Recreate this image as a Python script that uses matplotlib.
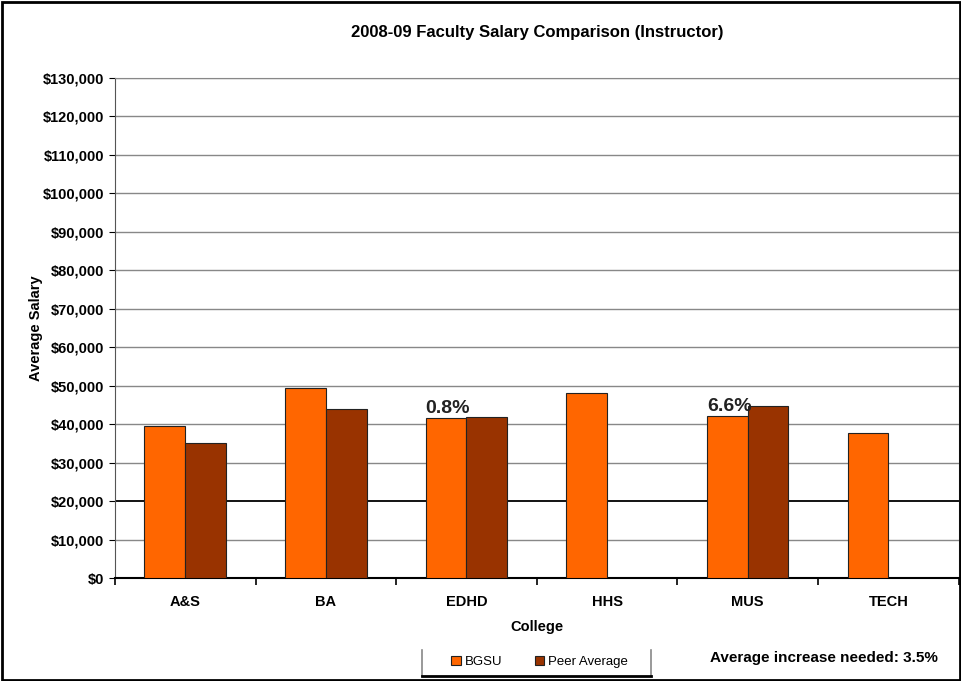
import matplotlib.pyplot as plt
import numpy as np
from matplotlib.ticker import FuncFormatter, MultipleLocator
from matplotlib.lines import Line2D

plt.rcParams['font.family'] = ['Liberation Sans', 'DejaVu Sans']

colleges = ['A&S', 'BA', 'EDHD', 'HHS', 'MUS', 'TECH']
bgsu = [39650, 49300, 41500, 48000, 42000, 37600]
peer = [35200, 43950, 41850, np.nan, 44800, np.nan]
gap_labels = {2: '0.8%', 4: '6.6%'}

fig = plt.figure(figsize=(9.62, 6.81), dpi=100)
ax = fig.add_axes([0.1195, 0.1512, 0.877, 0.7343])

x = np.arange(len(colleges))
w = 0.29
ax.bar(x - w / 2, bgsu, w, color='#FF6600', edgecolor='#222222', linewidth=0.8,
       label='BGSU', zorder=3)
ax.bar(x + w / 2, np.nan_to_num(peer), w, color='#993300', edgecolor='#222222',
       linewidth=0.8, label='Peer Average', zorder=3)

for i, txt in gap_labels.items():
    ax.text(x[i] - w, bgsu[i] + 300, txt, fontsize=14, fontweight='bold',
            ha='left', va='bottom', color='#222222')

ax.set_xlim(-0.5, len(colleges) - 0.5)
ax.set_ylim(0, 130000)
ax.yaxis.set_major_locator(MultipleLocator(10000))
ax.yaxis.set_major_formatter(FuncFormatter(lambda v, p: '${:,.0f}'.format(v)))

# gridlines: grey, with the $20,000 line drawn dark
for v in range(10000, 130001, 10000):
    if v == 20000:
        ax.axhline(v, color='black', lw=1.3, zorder=1)
    else:
        ax.axhline(v, color='#888888', lw=1.0, zorder=1)

ax.set_xticks(x)
ax.set_xticklabels(colleges, fontsize=10.5, fontweight='bold')
ax.set_xticks(np.arange(-0.5, len(colleges)), minor=True)
ax.tick_params(axis='x', which='major', length=0, pad=12)
ax.tick_params(axis='x', which='minor', length=5, width=1.2, direction='out')
ax.tick_params(axis='y', length=4, direction='out', labelsize=10.5)
for lab in ax.get_yticklabels():
    lab.set_fontweight('bold')

for s in ['top', 'right']:
    ax.spines[s].set_color('#888888')
ax.spines['left'].set_color('#555555')
ax.spines['bottom'].set_color('black')
ax.spines['bottom'].set_linewidth(1.5)

ax.set_ylabel('Average Salary', fontsize=10.5, fontweight='bold', labelpad=0)
ax.set_xlabel('College', fontsize=10.5, fontweight='bold', labelpad=8)

fig.text(0.558, 0.953, '2008-09 Faculty Salary Comparison (Instructor)',
         fontsize=12, fontweight='bold', ha='center', va='center')

leg = fig.legend(loc='center', bbox_to_anchor=(0.561, 0.028), ncol=2,
                 fontsize=9.5, frameon=False, handlelength=0.7,
                 handleheight=0.7, handletextpad=0.3, columnspacing=2.5)
for h in leg.legend_handles:
    h.set_edgecolor('#222222')

# legend box: grey sides, dark bottom
fig.add_artist(Line2D([0.4387, 0.4387], [0.0073, 0.0455], color='#888888', lw=1.2))
fig.add_artist(Line2D([0.6767, 0.6767], [0.0073, 0.0455], color='#888888', lw=1.2))
fig.add_artist(Line2D([0.4387, 0.6767], [0.0073, 0.0073], color='black', lw=2))

fig.text(0.8565, 0.034, 'Average increase needed: 3.5%', fontsize=11,
         fontweight='bold', ha='center', va='center')

fig.patches.append(plt.Rectangle((0.002, 0.002), 0.996, 0.995, transform=fig.transFigure,
                                 fill=False, edgecolor='black', lw=2))

plt.savefig('out.png', dpi=100)
